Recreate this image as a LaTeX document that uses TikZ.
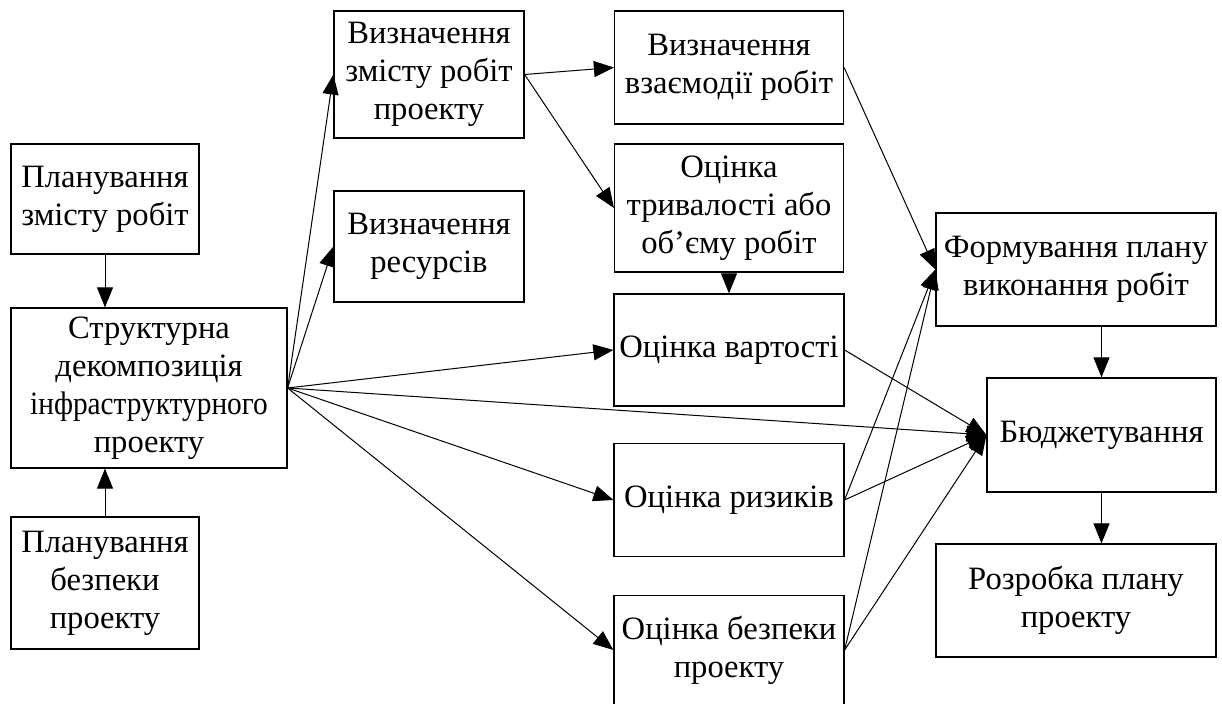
\documentclass[tikz,border=0pt]{standalone}
\usepackage{fontspec}
\usepackage{graphicx}
\setmainfont{Liberation Serif}
\usetikzlibrary{arrows.meta,positioning}

\begin{document}
\begin{tikzpicture}[x=1pt, y=1pt, node distance=75pt,
        >={Triangle[length=10pt,width=8pt]},
        blok/.style={draw, line width=0.6pt, align=center, inner sep=2pt,
            font=\fontsize{16.3pt}{19pt}\selectfont},
        every path/.style={line width=0.5pt}]
            \useasboundingbox (0,0) rectangle (611,-352);

            \node (sd) [blok, minimum width=138pt, minimum height=80pt] at (74.5,-194) {Структурна\\декомпозиція\\\scalebox{0.9}[1]{інфраструктурного}\\проекту};
            \node (plz) [blok, minimum width=94pt, minimum height=55pt, above of=sd, xshift=-22pt, yshift=19.5pt] {Планування\\змісту робіт};
            \node (plb) [blok, minimum width=94pt, minimum height=66pt, below of=sd, xshift=-22pt, yshift=-22.5pt] {Планування\\безпеки\\проекту};

            \node (vzm) [blok, minimum width=95pt, minimum height=63.5pt] at (214.5,-37.25) {Визначення\\змісту робіт\\проекту};
            \node (vres) [blok, minimum width=95pt, minimum height=55.5pt, below of=vzm, yshift=-11pt] {Визначення\\ресурсів};

            \node (vvz) [blok, minimum width=114.5pt, minimum height=56.5pt, right of=vzm, xshift=75pt, yshift=3.5pt] {Визначення\\взаємодії робіт};
            \node (otr) [blok, minimum width=114.5pt, minimum height=64pt, below of=vvz, yshift=4.75pt] {Оцінка\\тривалості або\\об’єму робіт};
            \node (ovr) [blok, minimum width=115pt, minimum height=56pt, below of=otr, yshift=4pt] {Оцінка вартості};
            \node (oriz) [blok, minimum width=115pt, minimum height=56.5pt, below of=ovr] {Оцінка ризиків};
            \node (obez) [blok, minimum width=115pt, minimum height=54.5pt, below of=oriz] {Оцінка безпеки\\проекту};

            \node (fpl) [blok, minimum width=140pt, minimum height=56.5pt] at (538,-134.75) {Формування плану\\виконання робіт};
            \node (bud) [blok, minimum width=114.5pt, minimum height=57pt, below of=fpl, xshift=12.75pt, yshift=-7.75pt] {Бюджетування};
            \node (rpl) [blok, minimum width=140pt, minimum height=56.5pt, below of=bud, xshift=-12.75pt, yshift=-7.75pt] {Розробка плану\\проекту};

            \draw [->] (plz) -- (plz |- sd.north);
            \draw [->] (plb) -- (plb |- sd.south);

            \draw [->] (sd.east) -- (vzm.west);
            \draw [->] (sd.east) -- (vres.west);
            \draw [->] (sd.east) -- (ovr.west);
            \draw [->] (sd.east) -- (bud.west);
            \draw [->] (sd.east) -- (oriz.west);
            \draw [->] (sd.east) -- (obez.west);

            \draw [->] (vzm.east) -- (vvz.west);
            \draw [->] (vzm.east) -- (otr.west);
            \draw [->] (otr) -- (ovr);

            \draw [->] (vvz.east) -- (fpl.west);
            \draw [->] (ovr.east) -- (bud.west);
            \draw [->] (oriz.east) -- (fpl.west);
            \draw [->] (oriz.east) -- (bud.west);
            \draw [->] (obez.east) -- (fpl.west);
            \draw [->] (obez.east) -- (bud.west);

            \draw [->] (fpl.south -| bud.north) -- (bud.north);
            \draw [->] (bud) -- (bud |- rpl.north);
        \end{tikzpicture}
\end{document}
